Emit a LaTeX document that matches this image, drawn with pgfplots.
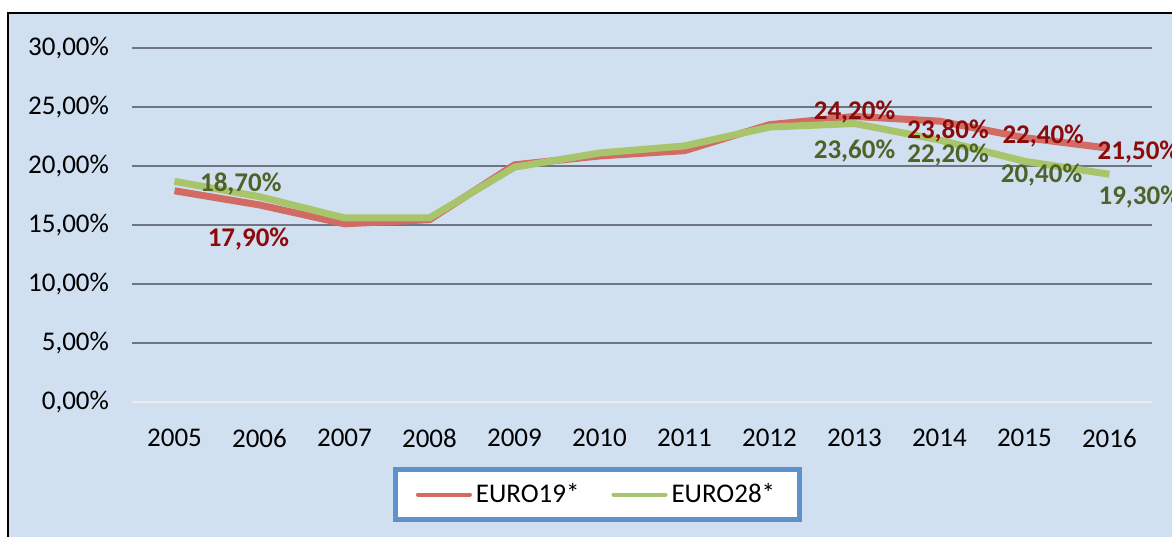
\documentclass[border=0pt]{standalone}
\usepackage{pgfplots}
\pgfplotsset{compat=1.18}
\usepackage{fontspec}
\setmainfont{Carlito}
\definecolor{bg}{HTML}{D0E0F1}
\definecolor{gridgray}{HTML}{6E7580}
\definecolor{redline}{HTML}{D26B64}
\definecolor{greenline}{HTML}{A9C56B}
\definecolor{redtext}{HTML}{8B0A0A}
\definecolor{greentext}{HTML}{4F6228}
\definecolor{legblue}{HTML}{5E92CB}
\newcommand\ff{\fontsize{13.5pt}{15pt}\selectfont}
\begin{document}
\begin{tikzpicture}[x=0.5pt,y=0.5pt]
\useasboundingbox (0,0) rectangle (1172,536);
\clip (0,0) rectangle (1172,536);
\fill[white] (0,0) rectangle (1172,536);
\draw[fill=bg, line width=1pt] (8,-20) rectangle (1200,523);
\begin{axis}[
  at={(66pt,67pt)}, anchor=south west,
  scale only axis, width=510pt, height=177pt,
  xmin=2004.5, xmax=2016.5, ymin=0, ymax=30,
  clip=false,
  axis line style={draw=none},
  major tick length=0pt,
  xtick={2005,...,2016},
  xticklabels={2005,2006,2007,2008,2009,2010,2011,2012,2013,2014,2015,2016},
  ytick={5,10,15,20,25,30},
  yticklabels={5{,}00\%,10{,}00\%,15{,}00\%,20{,}00\%,25{,}00\%,30{,}00\%},
  extra y ticks={0},
  extra y tick labels={0{,}00\%},
  extra y tick style={grid style={color=white!85!gray, line width=1pt}},
  ymajorgrids,
  grid style={color=gridgray, line width=1pt},
  tick label style={font=\ff},
  yticklabel style={xshift=-8pt},
  xticklabel style={yshift=-10pt},
  legend style={at={(0.4564,-0.2613)}, anchor=center, draw=legblue, line width=2.5pt,
    fill=white, legend columns=2, font=\ff, inner xsep=10pt, inner ysep=5pt,
    /tikz/every even column/.append style={column sep=14pt}},
  legend image code/.code={\draw[#1,line width=2pt,line cap=round] (0pt,0pt) -- (26pt,0pt);},
]
\addplot[color=redline, line width=3.5pt, line join=round] coordinates {
(2005,17.9) (2006,16.7) (2007,15.1) (2008,15.45) (2009,20.1) (2010,20.85)
(2011,21.3) (2012,23.5) (2013,24.2) (2014,23.8) (2015,22.4) (2016,21.5)};
\addplot[color=greenline, line width=3.5pt, line join=round] coordinates {
(2005,18.7) (2006,17.4) (2007,15.6) (2008,15.6) (2009,19.9) (2010,21.1)
(2011,21.7) (2012,23.3) (2013,23.6) (2014,22.2) (2015,20.4) (2016,19.3)};
\legend{EURO19*, EURO28*}
\begin{scope}[every node/.style={font=\ff\bfseries}]
\node[text=greentext] at (axis cs:2005.78,18.47) {18,70\%};
\node[text=redtext] at (axis cs:2005.87,13.81) {17,90\%};
\node[text=redtext] at (axis cs:2013.0,24.58) {24,20\%};
\node[text=greentext] at (axis cs:2013.0,21.27) {23,60\%};
\node[text=redtext] at (axis cs:2014.10,22.97) {23,80\%};
\node[text=greentext] at (axis cs:2014.10,20.93) {22,20\%};
\node[text=redtext] at (axis cs:2015.22,22.54) {22,40\%};
\node[text=greentext] at (axis cs:2015.20,19.24) {20,40\%};
\node[text=redtext] at (axis cs:2016.34,21.19) {21,50\%};
\node[text=greentext] at (axis cs:2016.35,17.37) {19,30\%};
\end{scope}
\end{axis}
\end{tikzpicture}
\end{document}
